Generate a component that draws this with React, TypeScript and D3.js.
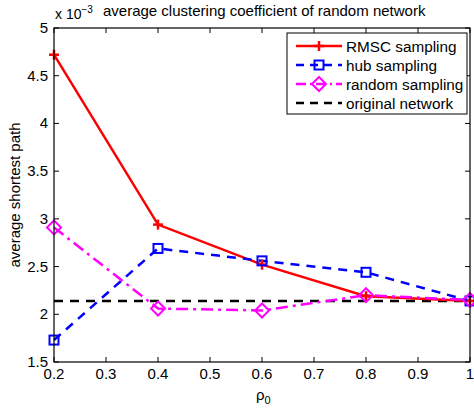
import React from "react";
import * as d3 from "d3";

const xValues = [0.2, 0.4, 0.6, 0.8, 1.0];
const rmsc = [4.72, 2.94, 2.52, 2.19, 2.14];
const hub = [1.73, 2.69, 2.56, 2.44, 2.14];
const randomS = [2.91, 2.06, 2.04, 2.2, 2.15];
const original = 2.14;
const xTicks = [0.2, 0.3, 0.4, 0.5, 0.6, 0.7, 0.8, 0.9, 1];
const yTicks = [1.5, 2, 2.5, 3, 3.5, 4, 4.5, 5];
const legendLabels = ["RMSC sampling", "hub sampling", "random sampling", "original network"];

const W = 474, H = 412;
const L = 54, R = 470, T = 28, B = 362;

export default function App() {
  const x = d3.scaleLinear().domain([0.2, 1]).range([L, R]);
  const y = d3.scaleLinear().domain([1.5, 5]).range([B, T]);
  const line = d3.line<number>().x((_, i) => x(xValues[i])).y((d) => y(d));
  const font = "Liberation Sans, Arial, sans-serif";

  const plus = (cx: number, cy: number, c: string, k: string) => (
    <g key={k} stroke={c} strokeWidth={2.5}>
      <line x1={cx - 5} x2={cx + 5} y1={cy} y2={cy} />
      <line x1={cx} x2={cx} y1={cy - 5} y2={cy + 5} />
    </g>
  );
  const square = (cx: number, cy: number, c: string, k: string) => (
    <rect key={k} x={cx - 4.5} y={cy - 4.5} width={9} height={9} fill="none" stroke={c} strokeWidth={2} />
  );
  const diamond = (cx: number, cy: number, c: string, k: string) => (
    <path key={k} d={`M${cx},${cy - 7}L${cx + 7},${cy}L${cx},${cy + 7}L${cx - 7},${cy}Z`} fill="none" stroke={c} strokeWidth={2} />
  );

  const legendRows = [
    { c: "#ff0000", dash: undefined, m: plus },
    { c: "#0000ff", dash: "8,6", m: square },
    { c: "#ff00ff", dash: "10,4,2,4", m: diamond },
    { c: "#000000", dash: "8,6", m: null },
  ];
  const lx0 = 287, ly0 = 33, lw = 180, lh = 81;

  return (
    <svg width={W} height={H} style={{ position: "absolute", left: 0, top: 0, background: "#fff" }} fontFamily={font}>
      <rect x={0} y={0} width={W} height={H} fill="#fff" />
      {xTicks.map((t) => (
        <g key={"xt" + t}>
          <line x1={x(t)} x2={x(t)} y1={B} y2={B - 5} stroke="#000" />
          <line x1={x(t)} x2={x(t)} y1={T} y2={T + 5} stroke="#000" />
          <text x={x(t)} y={B + 17} fontSize={15} textAnchor="middle">{t === 1 ? "1" : t.toFixed(1)}</text>
        </g>
      ))}
      {yTicks.map((t) => (
        <g key={"yt" + t}>
          <line x1={L} x2={L + 5} y1={y(t)} y2={y(t)} stroke="#000" />
          <line x1={R} x2={R - 5} y1={y(t)} y2={y(t)} stroke="#000" />
          <text x={L - 6} y={y(t) + 5} fontSize={15} textAnchor="end">{String(t)}</text>
        </g>
      ))}
      <line x1={L} x2={R} y1={y(original)} y2={y(original)} stroke="#000" strokeWidth={2.5} strokeDasharray="9,7" />
      <path d={line(rmsc) || ""} fill="none" stroke="#ff0000" strokeWidth={2.5} />
      <path d={line(hub) || ""} fill="none" stroke="#0000ff" strokeWidth={2.5} strokeDasharray="9,7" />
      <path d={line(randomS) || ""} fill="none" stroke="#ff00ff" strokeWidth={2.5} strokeDasharray="12,5,3,5" />
      {rmsc.map((v, i) => plus(x(xValues[i]), y(v), "#ff0000", "rp" + i))}
      {hub.map((v, i) => square(x(xValues[i]), y(v), "#0000ff", "hp" + i))}
      {randomS.map((v, i) => diamond(x(xValues[i]), y(v), "#ff00ff", "dp" + i))}
      <rect x={L} y={T} width={R - L} height={B - T} fill="none" stroke="#000" strokeWidth={1.2} />
      <rect x={lx0} y={ly0} width={lw} height={lh} fill="#fff" stroke="#000" strokeWidth={1} />
      {legendRows.map((r, i) => {
        const cy = ly0 + 13 + i * 19;
        return (
          <g key={"lg" + i}>
            <line x1={lx0 + 9} x2={lx0 + 55} y1={cy} y2={cy} stroke={r.c} strokeWidth={2.5} strokeDasharray={r.dash} />
            {r.m ? r.m(lx0 + 32, cy, r.c, "lm" + i) : null}
            <text x={lx0 + 59} y={cy + 6} fontSize={15.3}>{legendLabels[i]}</text>
          </g>
        );
      })}
      <text x={55} y={19} fontSize={14}>x 10<tspan dy={-6} fontSize={10}>−3</tspan></text>
      <text x={103} y={16} fontSize={15}>average clustering coefficient of random network</text>
      <text x={(L + R) / 2 - 6} y={400} fontSize={15}>ρ<tspan dy={4} fontSize={11}>0</tspan></text>
      <text transform={`translate(20,${(T + B) / 2}) rotate(-90)`} textAnchor="middle" fontSize={15}>average shortest path</text>
    </svg>
  );
}
